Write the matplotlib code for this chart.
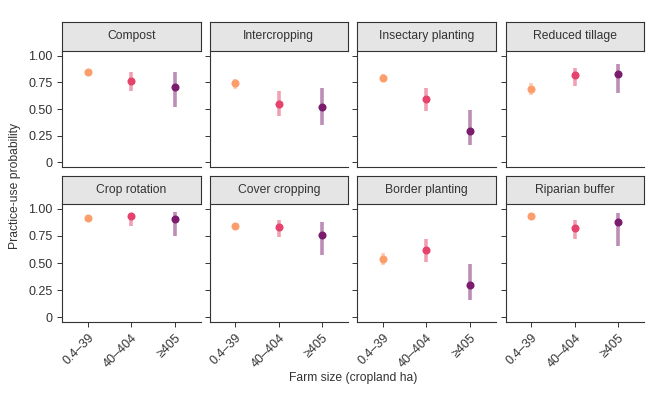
import matplotlib
matplotlib.use("Agg")
import matplotlib.pyplot as plt

plt.rcParams['font.family'] = ['Liberation Sans', 'DejaVu Sans']

practices = ["Compost", "Intercropping", "Insectary planting", "Reduced tillage",
             "Crop rotation", "Cover cropping", "Border planting", "Riparian buffer"]
size_classes = ["0.4\u201339", "40\u2013404", "\u2265405"]
colors = ["#FC9E6C", "#E5436B", "#7B1C6E"]

estimate = {
    "Compost":            [0.85, 0.765, 0.71],
    "Intercropping":      [0.74, 0.55, 0.52],
    "Insectary planting": [0.795, 0.595, 0.295],
    "Reduced tillage":    [0.69, 0.815, 0.825],
    "Crop rotation":      [0.915, 0.93, 0.91],
    "Cover cropping":     [0.84, 0.835, 0.755],
    "Border planting":    [0.54, 0.62, 0.30],
    "Riparian buffer":    [0.935, 0.825, 0.875],
}
lower = {
    "Compost":            [0.83, 0.665, 0.52],
    "Intercropping":      [0.69, 0.435, 0.345],
    "Insectary planting": [0.75, 0.485, 0.16],
    "Reduced tillage":    [0.635, 0.72, 0.655],
    "Crop rotation":      [0.90, 0.845, 0.745],
    "Cover cropping":     [0.82, 0.74, 0.57],
    "Border planting":    [0.48, 0.505, 0.155],
    "Riparian buffer":    [0.92, 0.725, 0.66],
}
upper = {
    "Compost":            [0.87, 0.845, 0.845],
    "Intercropping":      [0.78, 0.665, 0.695],
    "Insectary planting": [0.83, 0.695, 0.49],
    "Reduced tillage":    [0.74, 0.885, 0.925],
    "Crop rotation":      [0.93, 0.965, 0.975],
    "Cover cropping":     [0.86, 0.895, 0.875],
    "Border planting":    [0.595, 0.72, 0.49],
    "Riparian buffer":    [0.95, 0.895, 0.96],
}
yticks = [0, 0.25, 0.5, 0.75, 1.0]
ytick_labels = ["0", "0.25", "0.50", "0.75", "1.00"]

W, H = 657, 400
fig = plt.figure(figsize=(W / 100, H / 100), dpi=100)

col_x = [62, 209.5, 357, 505.5]
col_w = 138.5
rows = [(22, 51, 167), (176, 204, 322)]  # strip top, plot top, plot bottom
txt = "#333333"

def px(x, y, w, h):
    return [x / W, 1 - (y + h) / H, w / W, h / H]

for i, name in enumerate(practices):
    r, c = divmod(i, 4)
    st, pt, pb = rows[r]
    ax = fig.add_axes(px(col_x[c], pt, col_w, pb - pt))
    xs = [1, 2, 3]
    for k in range(3):
        ax.plot([xs[k], xs[k]], [lower[name][k], upper[name][k]], color=colors[k],
                alpha=0.5, lw=2.6, solid_capstyle='butt', zorder=2)
        ax.plot(xs[k], estimate[name][k], 'o', color=colors[k], ms=5.8,
                mec='none', zorder=3)
    ax.set_xlim(0.4, 3.6)
    ax.set_ylim(-0.045, 1.045)
    for s in ['top', 'right']:
        ax.spines[s].set_visible(False)
    for s in ['left', 'bottom']:
        ax.spines[s].set_color(txt)
        ax.spines[s].set_linewidth(0.8)
    ax.set_yticks(yticks)
    ax.tick_params(colors=txt, width=0.7, length=3.5, labelsize=9, labelcolor=txt)
    if c == 0:
        ax.set_yticklabels(ytick_labels)
    else:
        ax.set_yticklabels([])
    ax.set_xticks(xs)
    if r == 1:
        ax.set_xticklabels(size_classes, rotation=45, ha='right', va='top',
                           rotation_mode='anchor')
    else:
        ax.set_xticklabels([])
        ax.tick_params(axis='x', length=0)
    # strip
    sax = fig.add_axes(px(col_x[c], st, col_w, pt - st))
    sax.set_xticks([]); sax.set_yticks([])
    sax.set_facecolor("#E5E5E5")
    for s in sax.spines.values():
        s.set_color(txt)
        s.set_linewidth(0.8)
    sax.text(0.5, 0.5, name, ha='center', va='center', fontsize=8.7, color=txt,
             transform=sax.transAxes)

fig.text(15 / W, 1 - 186 / H, "Practice-use probability", rotation=90,
         ha='center', va='center', fontsize=8.7, color=txt)
fig.text(353 / W, 1 - 378 / H, "Farm size (cropland ha)", ha='center',
         va='center', fontsize=8.7, color=txt)

fig.savefig("out.png", dpi=100)
